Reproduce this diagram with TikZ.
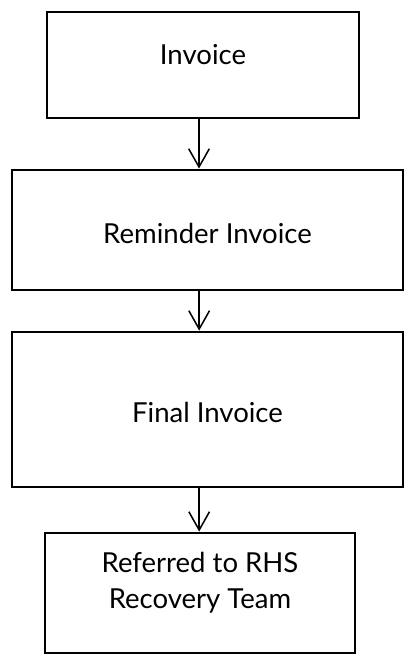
\documentclass[tikz,border=0pt]{standalone}
\usepackage{fontspec}
\setmainfont{Lato}
\usetikzlibrary{arrows.meta}

\tikzset{
	stage/.style={draw,line width=2.4pt,minimum width=#1,inner sep=0pt},
	caption/.style={font=\fontsize{23.5}{31}\selectfont,align=center},
	flow/.style={line width=1.3pt,-{Straight Barb[length=5.5mm,width=6.2mm,line width=1.3pt]}}
}

\begin{document}
\begin{tikzpicture}
	\useasboundingbox (0,0) rectangle (12.15,19.65);
	%BOXES
	\node[stage=9.36cm,minimum height=3.18cm] (inv) at (6.09,17.7) {};
	\node[stage=11.73cm,minimum height=3.6cm] (rem) at (6.225,12.75) {};
	\node[stage=11.73cm,minimum height=4.65cm] (fin) at (6.225,7.365) {};
	\node[stage=9.3cm,minimum height=3.6cm] (rhs) at (6.0,1.86) {};
	
	%TEXTS
	\node[caption] (inv-txt) at ([yshift=0.3cm]inv.center) {Invoice};
	\node[caption] (rem-txt) at ([yshift=-0.1cm]rem.center) {Reminder Invoice};
	\node[caption] (fin-txt) at ([yshift=-0.1cm]fin.center) {Final Invoice};
	\node[caption] (rhs-txt) at ([yshift=0.3cm]rhs.center) {Referred to RHS\\Recovery Team};
	
	%ARROWS
	\draw[flow] ([xshift=-0.12cm]inv.south) -- ([xshift=-0.12cm]inv.south |- rem.north);
	\draw[flow] ([xshift=-0.25cm]rem.south) -- ([xshift=-0.25cm]rem.south |- fin.north);
	\draw[flow] ([xshift=-0.25cm]fin.south) -- ([xshift=-0.25cm]fin.south |- rhs.north);
\end{tikzpicture}
\end{document}
